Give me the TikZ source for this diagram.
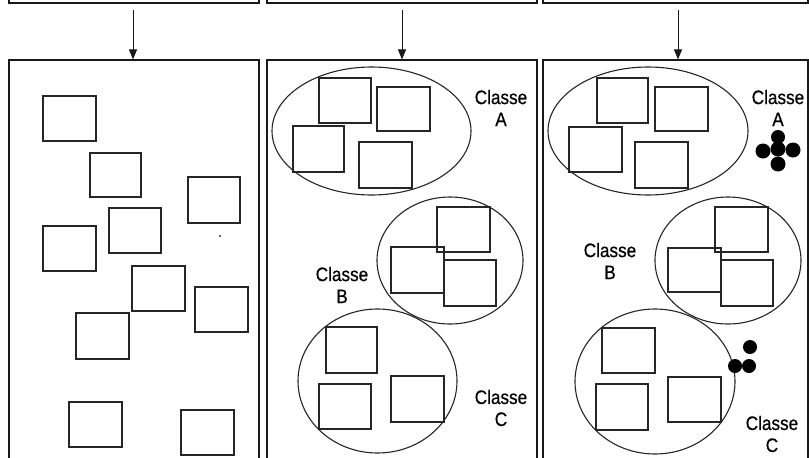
\documentclass[tikz,border=0pt]{standalone}
\usepackage{fontspec}
\newfontfamily\labfont{Liberation Sans}[FakeStretch=0.88,FakeBold=0.6]
\usetikzlibrary{arrows.meta}
\tikzset{
  frame/.style={draw=black!90, line width=1.1pt},
  sq/.style={draw=black!85, line width=1.1pt},
  ell/.style={draw=black!85, line width=1.1pt},
  arr/.style={draw=black!90, line width=1pt, -{Triangle[length=10pt,width=8pt]}},
  lab/.style={font=\labfont\fontsize{19.5}{22}\selectfont, align=center, inner sep=0pt, text=black},
  dot/.style={fill=black}
}
\begin{document}
\begin{tikzpicture}[x=1pt,y=-1pt]
\useasboundingbox (0,0) rectangle (809,458);
\fill[white] (0,0) rectangle (809,458);
\clip (0,0) rectangle (809,458);

% top boxes (cut off)
\node[frame, minimum width=250pt, minimum height=24pt, inner sep=0pt] (top1) at (134,-9) {};
\node[frame, minimum width=270pt, minimum height=24pt, inner sep=0pt] (top2) at (402,-9) {};
\node[frame, minimum width=265pt, minimum height=24pt, inner sep=0pt] (top3) at (675.5,-9) {};

% panels (cut off at bottom)
\node[frame, minimum width=250pt, minimum height=410pt, inner sep=0pt] (pan1) at (134,265) {};
\node[frame, minimum width=270pt, minimum height=410pt, inner sep=0pt] (pan2) at (402,265) {};
\node[frame, minimum width=265pt, minimum height=410pt, inner sep=0pt] (pan3) at (675.5,265) {};

% arrows
\coordinate (a1) at (133,10);
\coordinate (a2) at (402,10);
\coordinate (a3) at (678,10);
\draw[arr] (a1) -- (a1 |- pan1.north);
\draw[arr] (a2) -- (a2 |- pan2.north);
\draw[arr] (a3) -- (a3 |- pan3.north);

% panel 1: scattered objects
\draw[sq] (43,96) rectangle (96,141);
\draw[sq] (90,153) rectangle (141,197);
\draw[sq] (188,177) rectangle (240,223);
\draw[sq] (109,208) rectangle (161,253);
\draw[sq] (43,226) rectangle (96,271);
\draw[sq] (132,266) rectangle (185,311);
\draw[sq] (195,287) rectangle (248,332);
\draw[sq] (76,313) rectangle (129,359);
\draw[sq] (69,402) rectangle (122,447);
\draw[sq] (181,410) rectangle (234,455);
\fill[black!80] (220,236) circle [radius=1.2];

% panel 2: classes
\draw[ell] (371.5,131) ellipse [x radius=99.5, y radius=64];
\draw[sq] (319,78) rectangle (371,123);
\draw[sq] (377,87) rectangle (430,131);
\draw[sq] (293,126) rectangle (344,172);
\draw[sq] (359,142) rectangle (412,188);
\node[lab] (p2A) at (501,108) {Classe\\A};

\draw[ell] (450,260.5) ellipse [x radius=73, y radius=63.5];
\draw[sq] (437,207) rectangle (490,252);
\draw[sq] (391,247) rectangle (444,293);
\draw[sq] (444,260) rectangle (496,306);
\node[lab] (p2B) at (342,285) {Classe\\B};

\draw[ell] (377.5,381) ellipse [x radius=79.5, y radius=72];
\draw[sq] (326,327) rectangle (377,373);
\draw[sq] (319,384) rectangle (371,429);
\draw[sq] (391,376) rectangle (444,422);
\node[lab] (p2C) at (501,408) {Classe\\C};

% panel 3: classes with representatives
\draw[ell] (648,131) ellipse [x radius=100, y radius=64];
\draw[sq] (597,78) rectangle (648,123);
\draw[sq] (655,87) rectangle (708,131);
\draw[sq] (569,127) rectangle (622,172);
\draw[sq] (635,142) rectangle (688,188);
\node[lab] (p3A) at (778,108) {Classe\\A};
\fill[dot] (778,137) circle [radius=7];
\fill[dot] (763,151) circle [radius=7.5];
\fill[dot] (793,150) circle [radius=7.5];
\fill[dot] (778,149) circle [radius=7.5];
\fill[dot] (778,164) circle [radius=7.5];

\draw[ell] (728,260.5) ellipse [x radius=73, y radius=63.5];
\draw[sq] (715,207) rectangle (768,252);
\draw[sq] (668,248) rectangle (721,292);
\draw[sq] (721,260) rectangle (773,306);
\node[lab] (p3B) at (610,261) {Classe\\B};

\draw[ell] (655,381.5) ellipse [x radius=80, y radius=72.5];
\draw[sq] (602,328) rectangle (655,373);
\draw[sq] (596,384) rectangle (648,430);
\draw[sq] (668,377) rectangle (721,422);
\fill[dot] (750,347) circle [radius=7];
\fill[dot] (735,366) circle [radius=7];
\fill[dot] (749,366) circle [radius=7];
\node[lab] (p3C) at (772,434) {Classe\\C};
\end{tikzpicture}
\end{document}
